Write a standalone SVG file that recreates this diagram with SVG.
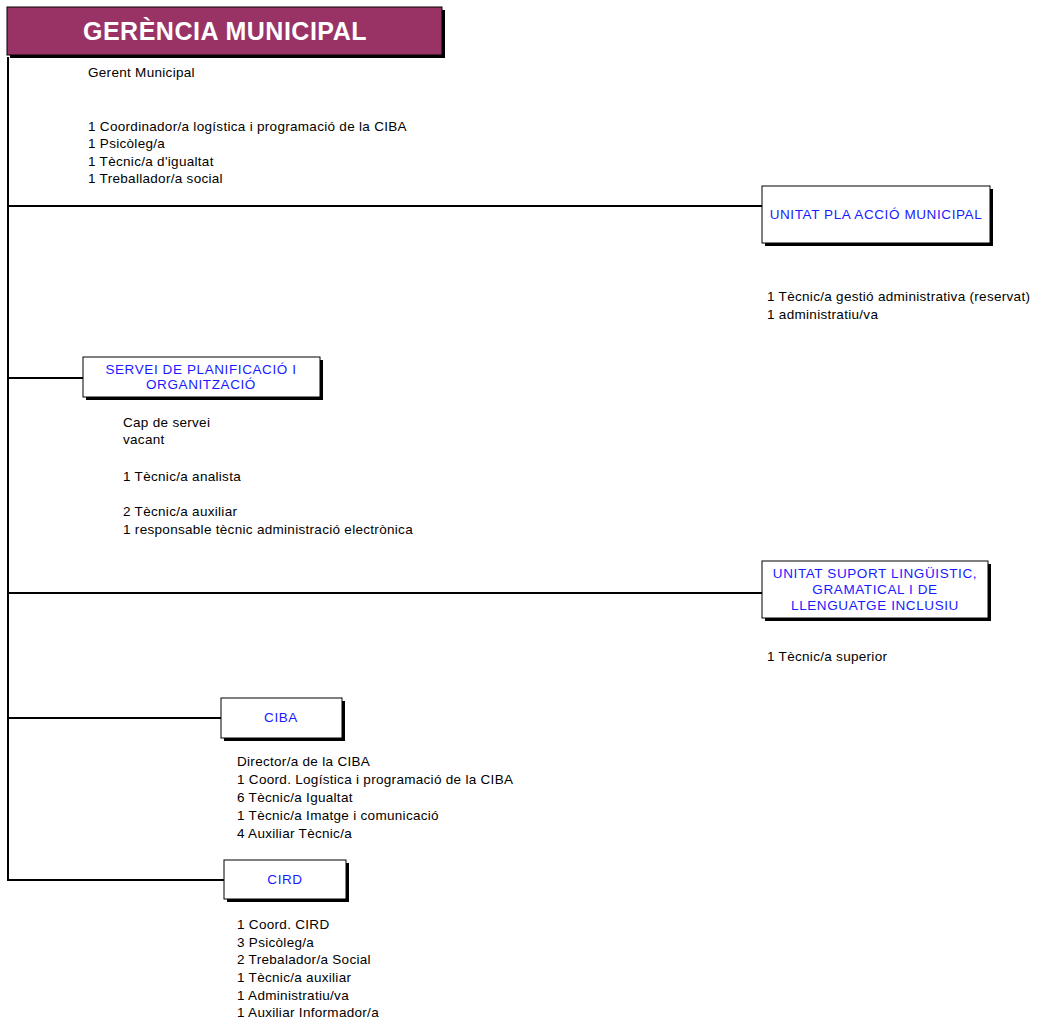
<svg xmlns="http://www.w3.org/2000/svg" width="1041" height="1026" viewBox="0 0 1041 1026">
<style>
.box{fill:#ffffff;stroke:#000000;stroke-width:1}
.sh{fill:#000000}
.bt{font-family:"Liberation Sans",Arial,sans-serif;font-size:13.5px;letter-spacing:0.6px;fill:#1a1aff;text-anchor:middle}
.t{font-family:"Liberation Sans",Arial,sans-serif;font-size:13.5px;letter-spacing:0.3px;fill:#000000}
.ln{stroke:#000000;stroke-width:2;fill:none}
</style>
<rect width="1041" height="1026" fill="#ffffff"/>
<g id="connectors">
<path class="ln" d="M8 57 V880 H224"/>
<path class="ln" d="M8 206 H762"/>
<path class="ln" d="M8 378 H83"/>
<path class="ln" d="M8 593 H762"/>
<path class="ln" d="M8 718 H221"/>
</g>
<g id="gerencia">
<rect class="sh" x="10" y="10" width="435" height="48"/>
<rect x="7" y="7" width="435" height="48" fill="#993366" stroke="#000000" stroke-width="1"/>
<text x="225" y="40" font-family="Liberation Sans,Arial,sans-serif" font-size="25" letter-spacing="0.5" font-weight="bold" fill="#ffffff" text-anchor="middle">GERÈNCIA MUNICIPAL</text>
</g>
<g id="gerencia-staff">
<text class="t" x="88" y="77">Gerent Municipal</text>
<text class="t" x="88" y="131">1 Coordinador/a logística i programació de la CIBA</text>
<text class="t" x="88" y="148">1 Psicòleg/a</text>
<text class="t" x="88" y="166">1 Tècnic/a d'igualtat</text>
<text class="t" x="88" y="183">1 Treballador/a social</text>
</g>
<g id="unitat-pla">
<rect class="sh" x="765" y="189" width="228" height="57"/>
<rect class="box" x="762" y="186" width="228" height="57"/>
<text class="bt" x="876" y="219">UNITAT PLA ACCIÓ MUNICIPAL</text>
<text class="t" x="767" y="301">1 Tècnic/a gestió administrativa (reservat)</text>
<text class="t" x="767" y="319">1 administratiu/va</text>
</g>
<g id="servei">
<rect class="sh" x="86" y="360" width="237" height="40"/>
<rect class="box" x="83" y="357" width="237" height="40"/>
<text class="bt" x="201" y="374">SERVEI DE PLANIFICACIÓ I</text>
<text class="bt" x="201" y="389">ORGANITZACIÓ</text>
<text class="t" x="123" y="427">Cap de servei</text>
<text class="t" x="123" y="444">vacant</text>
<text class="t" x="123" y="481">1 Tècnic/a analista</text>
<text class="t" x="123" y="516">2 Tècnic/a auxiliar</text>
<text class="t" x="123" y="534">1 responsable tècnic administració electrònica</text>
</g>
<g id="unitat-suport">
<rect class="sh" x="765" y="564" width="226" height="57"/>
<rect class="box" x="762" y="561" width="226" height="57"/>
<text class="bt" x="875" y="578">UNITAT SUPORT LINGÜISTIC,</text>
<text class="bt" x="875" y="594">GRAMATICAL I DE</text>
<text class="bt" x="875" y="610">LLENGUATGE INCLUSIU</text>
<text class="t" x="767" y="661">1 Tècnic/a superior</text>
</g>
<g id="ciba">
<rect class="sh" x="224" y="701" width="121" height="40"/>
<rect class="box" x="221" y="698" width="121" height="40"/>
<text class="bt" x="281" y="722">CIBA</text>
<text class="t" x="237" y="766">Director/a de la CIBA</text>
<text class="t" x="237" y="784">1 Coord. Logística i programació de la CIBA</text>
<text class="t" x="237" y="802">6 Tècnic/a Igualtat</text>
<text class="t" x="237" y="820">1 Tècnic/a Imatge i comunicació</text>
<text class="t" x="237" y="838">4 Auxiliar Tècnic/a</text>
</g>
<g id="cird">
<rect class="sh" x="227" y="863" width="122" height="39"/>
<rect class="box" x="224" y="860" width="122" height="39"/>
<text class="bt" x="285" y="884">CIRD</text>
<text class="t" x="237" y="929">1 Coord. CIRD</text>
<text class="t" x="237" y="947">3 Psicòleg/a</text>
<text class="t" x="237" y="964">2 Trebalador/a Social</text>
<text class="t" x="237" y="982">1 Tècnic/a auxiliar</text>
<text class="t" x="237" y="1000">1 Administratiu/va</text>
<text class="t" x="237" y="1017">1 Auxiliar Informador/a</text>
</g>
</svg>
